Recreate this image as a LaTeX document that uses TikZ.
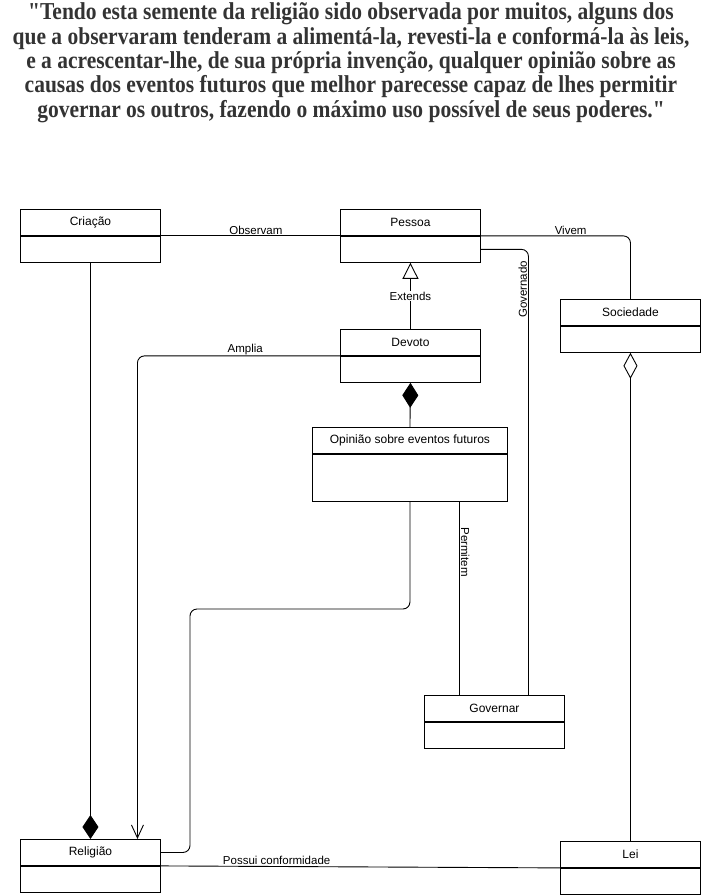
\documentclass[tikz,border=0pt]{standalone}
\usepackage{fontspec}
\setmainfont{Liberation Sans}
\newfontfamily\quotefont{Liberation Serif}
\usepackage{graphicx}
\usepackage{tikz}
\usetikzlibrary{arrows.meta}
\definecolor{quotegray}{RGB}{51,51,51}

\begin{document}
\begin{tikzpicture}[x=1pt, y=-1pt, line width=0.9pt,
		classhead/.style={draw, inner sep=0pt, minimum height=26pt, font=\fontsize{12}{14}\selectfont},
		classbody/.style={draw, inner sep=0pt},
		lbl/.style={inner sep=1pt, font=\fontsize{11.5}{13}\selectfont},
		conn/.style={rounded corners=7pt}]
		\useasboundingbox (0, 0) rectangle (702, 895);
		\node[inner sep=0pt, text=quotegray, font=\quotefont\bfseries\fontsize{21.5}{21.46}\selectfont] (quote) at (351, 63.5)
			{\scalebox{1}[1.13]{\begin{tabular}{@{}c@{}}
			"Tendo esta semente da religião sido observada por muitos, alguns dos\\
			que a observaram tenderam a alimentá-la, revesti-la e conformá-la às leis,\\
			e a acrescentar-lhe, de sua própria invenção, qualquer opinião sobre as\\
			causas dos eventos futuros que melhor parecesse capaz de lhes permitir\\
			governar os outros, fazendo o máximo uso possível de seus poderes."
			\end{tabular}}};
		\foreach \n/\x/\y/\w/\b/\t in {cri/20/209/140/26/Criação, pes/340/209/140/26/Pessoa,
			soc/560/299/140/26/Sociedade, dev/340/329/140/26/Devoto,
			opi/312/427/195/47/Opinião sobre eventos futuros, gov/424/695/140/26/Governar,
			rel/20/839/140/26/Religião, lei/560/841/140/26/Lei}
		{
			\node[classhead, minimum width={\w*1pt}, anchor=north west] (\n-h) at (\x, \y) {\t};
			\node[classbody, minimum width={\w*1pt}, minimum height={\b*1pt}, anchor=north] (\n-b) at (\n-h.south) {};
		}
		\draw (cri-h.south east) -- node[lbl, pos=0.53, anchor=south] (l-obs) {Observam} (pes-h.south west);
		\draw[conn] (pes-h.south east) -| node[lbl, pos=0.3, anchor=south] (l-viv) {Vivem} (soc-h.north);
		\draw[conn] (pes-b.east) -| node[lbl, pos=0.545, anchor=south, rotate=90] (l-gov) {Governado} ([xshift=34pt]gov-h.north);
		\draw[-{Triangle[open, length=16pt, width=16pt]}] (dev-h.north) -- node[lbl, fill=white] (l-ext) {Extends} (pes-b.south);
		\draw[{Diamond[length=25pt, width=16pt]}-] (dev-b.south) -- (opi-h.north);
		\draw[conn, -{Straight Barb[length=13pt, width=12pt]}] (dev-h.south west) -| node[lbl, pos=0.234, anchor=south] (l-amp) {Amplia} ([xshift=47pt]rel-h.north);
		\draw[-{Diamond[length=24pt, width=16pt]}] (cri-b.south) -- (rel-h.north);
		\draw[conn] (opi-b.south) |- (190, 609) |- (rel-h.east);
		\draw ([xshift=49.5pt]opi-b.south) -- node[lbl, pos=0.26, anchor=south, rotate=-90] (l-per) {Permitem} ([xshift=-35pt]gov-h.north);
		\draw[{Diamond[open, length=26pt, width=14pt]}-] (soc-b.south) -- (lei-h.north);
		\draw (rel-h.south east) -- node[lbl, pos=0.29, anchor=south] (l-pos) {Possui conformidade} (lei-h.south west);
	\end{tikzpicture}
\end{document}
